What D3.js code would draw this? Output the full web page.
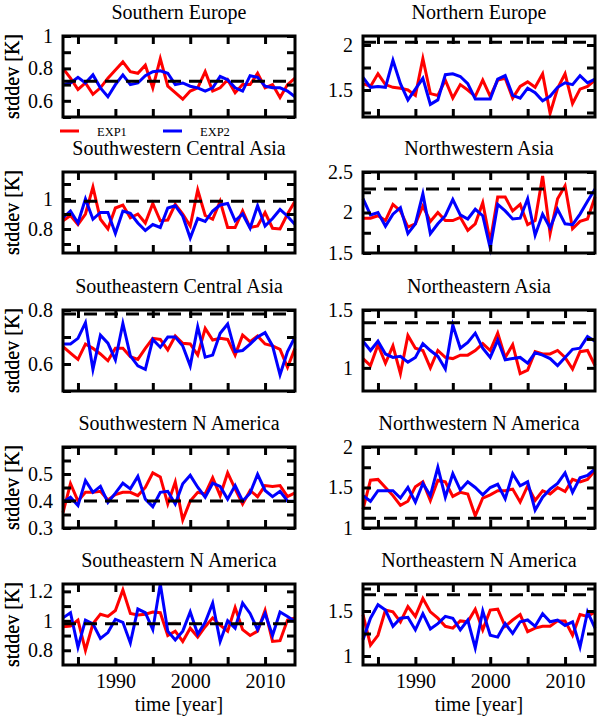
<!DOCTYPE html>
<html>
<head>
<meta charset="utf-8">
<script src="https://cdn.jsdelivr.net/npm/d3@7"></script>
<style>
  html, body { margin: 0; padding: 0; background: #fff; }
  svg { display: block; }
</style>
</head>
<body>
<svg id="chart" width="600" height="719"></svg>
<script>
// ---------------- DATA ----------------
const years = [1983,1984,1985,1986,1987,1988,1989,1990,1991,1992,1993,1994,1995,1996,1997,1998,
               1999,2000,2001,2002,2003,2004,2005,2006,2007,2008,2009,2010,2011,2012,2013,2014];

const regions = ["Southern Europe", "Northern Europe",
                 "Southwestern Central Asia", "Northwestern Asia",
                 "Southeastern Central Asia", "Northeastern Asia",
                 "Southwestern N America", "Northwestern N America",
                 "Southeastern N America", "Northeastern N America"];

const seriesNames = ["EXP1", "EXP2"];

// Southern Europe
const exp1_SEur = [0.80,0.74,0.67,0.71,0.64,0.68,0.74,0.79,0.84,0.78,0.77,0.82,0.68,0.86,0.69,0.65,
                   0.61,0.66,0.68,0.78,0.66,0.68,0.73,0.65,0.70,0.70,0.77,0.68,0.70,0.62,0.70,0.74];
const exp2_SEur = [0.70,0.71,0.745,0.71,0.76,0.68,0.625,0.70,0.76,0.70,0.71,0.755,0.78,0.785,0.77,0.70,
                   0.71,0.69,0.68,0.66,0.68,0.75,0.73,0.68,0.66,0.755,0.745,0.69,0.68,0.68,0.66,0.625];
// Northern Europe
const exp1_NEur = [1.57,1.54,1.68,1.56,1.53,1.52,1.50,1.44,1.85,1.46,1.44,1.61,1.41,1.56,1.50,1.43,
                   1.61,1.43,1.61,1.63,1.41,1.54,1.59,1.53,1.68,1.24,1.52,1.68,1.35,1.51,1.54,1.61];
const exp2_NEur = [1.64,1.53,1.54,1.53,1.83,1.57,1.39,1.51,1.63,1.34,1.39,1.67,1.68,1.65,1.57,1.40,
                   1.40,1.40,1.62,1.66,1.44,1.41,1.52,1.47,1.38,1.43,1.53,1.58,1.56,1.66,1.58,1.62];
// Southwestern Central Asia
const exp1_SWCA = [0.855,0.89,0.83,0.90,1.08,0.865,0.80,0.94,0.96,0.875,0.90,0.84,0.97,0.855,0.86,0.965,
                   0.90,0.82,1.06,0.89,0.865,0.985,0.81,0.81,0.92,0.81,0.82,0.91,0.805,0.80,0.90,0.985];
const exp2_SWCA = [0.875,0.92,0.84,1.00,0.865,0.91,0.91,0.77,0.92,0.905,0.84,0.79,0.83,0.81,0.94,0.955,
                   0.885,0.74,0.87,0.85,0.92,0.96,0.97,0.855,0.90,0.805,0.955,0.82,0.87,0.93,0.885,0.83];
// Northwestern Asia
const exp1_NWA = [1.93,1.93,1.96,1.90,2.10,2.02,1.82,1.86,2.08,1.89,2.00,1.90,1.90,1.94,1.78,1.86,
                  2.12,1.64,2.19,2.19,2.02,2.10,1.85,1.90,2.45,1.74,2.17,2.33,1.80,1.89,1.92,2.19];
const exp2_NWA = [2.17,1.97,2.00,1.83,1.98,2.06,1.74,1.86,2.23,1.74,1.86,1.96,2.16,1.97,1.92,2.04,
                  1.96,1.56,2.10,2.02,1.92,1.93,2.17,1.72,1.98,1.81,2.04,1.86,1.85,1.98,2.14,2.29];
// Southeastern Central Asia
const exp1_SECA = [0.664,0.64,0.617,0.674,0.658,0.637,0.612,0.658,0.658,0.627,0.617,0.658,0.695,0.691,0.652,0.704,
                   0.677,0.674,0.633,0.732,0.689,0.695,0.691,0.633,0.707,0.683,0.704,0.674,0.667,0.654,0.588,0.658];
const exp2_SECA = [0.674,0.674,0.695,0.753,0.58,0.707,0.677,0.615,0.75,0.63,0.593,0.58,0.691,0.662,0.70,0.70,
                   0.667,0.593,0.738,0.625,0.633,0.714,0.748,0.646,0.65,0.674,0.70,0.716,0.667,0.56,0.646,0.70];
// Northeastern Asia
const exp1_NEA = [1.08,1.02,1.20,1.04,1.19,0.95,1.28,1.17,1.15,1.00,1.15,1.09,1.08,1.11,1.11,1.15,
                  1.21,1.15,1.30,1.09,1.20,0.95,0.98,1.14,1.12,1.12,1.15,1.09,0.99,1.14,1.15,1.02];
const exp2_NEA = [1.23,1.15,1.23,1.12,1.09,1.10,1.05,1.09,1.21,1.15,1.10,0.99,1.37,1.17,1.22,1.30,
                  1.17,1.09,1.24,1.07,1.08,1.09,1.04,1.13,1.11,1.08,1.02,1.09,1.16,1.17,1.27,1.23];
// Southwestern N America
const exp1_SWNA = [0.357,0.464,0.40,0.432,0.432,0.436,0.404,0.424,0.432,0.432,0.42,0.45,0.504,0.489,0.389,0.47,
                   0.33,0.40,0.432,0.426,0.486,0.42,0.504,0.445,0.389,0.439,0.416,0.457,0.454,0.457,0.416,0.43];
const exp2_SWNA = [0.395,0.414,0.383,0.476,0.432,0.454,0.395,0.429,0.466,0.445,0.491,0.407,0.379,0.432,0.436,0.389,
                   0.464,0.495,0.451,0.414,0.466,0.454,0.407,0.457,0.40,0.429,0.499,0.439,0.416,0.436,0.40,0.399];
// Northwestern N America
const exp1_NWNA = [1.23,1.59,1.60,1.50,1.40,1.28,1.33,1.51,1.57,1.34,1.59,1.57,1.39,1.44,1.42,1.15,
                   1.37,1.41,1.46,1.46,1.48,1.32,1.52,1.34,1.46,1.42,1.50,1.45,1.60,1.57,1.60,1.71];
const exp2_NWNA = [1.40,1.33,1.46,1.46,1.46,1.37,1.50,1.32,1.55,1.40,1.75,1.38,1.67,1.47,1.57,1.50,
                   1.41,1.50,1.54,1.36,1.67,1.52,1.57,1.22,1.38,1.48,1.55,1.68,1.44,1.62,1.65,1.73];
// Southeastern N America
const exp1_SENA = [0.96,0.965,1.005,0.80,0.98,1.045,1.03,1.07,1.21,1.05,1.04,1.045,1.06,1.055,0.90,0.93,
                   0.86,0.95,0.89,0.96,1.02,0.97,0.93,1.09,0.94,0.90,0.93,1.07,0.86,0.865,1.005,1.02];
const exp2_SENA = [1.02,1.055,0.82,1.005,0.98,0.88,0.92,1.01,0.99,0.85,1.08,1.055,0.94,1.25,0.93,0.87,
                   0.93,1.06,0.91,0.99,1.12,0.86,1.00,0.95,1.12,1.05,0.94,1.05,0.90,1.06,1.03,0.995];
// Northeastern N America
const exp1_NENA = [1.46,1.12,1.23,1.51,1.49,1.38,1.55,1.44,1.64,1.49,1.42,1.33,1.31,1.39,1.38,1.52,
                   1.29,1.51,1.52,1.33,1.40,1.46,1.27,1.31,1.33,1.33,1.39,1.39,1.23,1.46,1.44,1.49];
const exp2_NENA = [1.18,1.42,1.57,1.51,1.33,1.42,1.43,1.29,1.47,1.30,1.36,1.44,1.42,1.29,1.40,1.09,
                   1.50,1.23,1.21,1.36,1.25,1.38,1.40,1.33,1.47,1.38,1.40,1.34,1.38,1.10,1.49,1.31];

const exp1 = [exp1_SEur, exp1_NEur, exp1_SWCA, exp1_NWA, exp1_SECA, exp1_NEA, exp1_SWNA, exp1_NWNA, exp1_SENA, exp1_NENA];
const exp2 = [exp2_SEur, exp2_NEur, exp2_SWCA, exp2_NWA, exp2_SECA, exp2_NEA, exp2_SWNA, exp2_NWNA, exp2_SENA, exp2_NENA];

// dashed reference level per region
const thresholds = [0.72, 2.03, 0.985, 2.29, 0.785, 1.39, 0.40, 1.12, 0.98, 1.68];

// y axis ranges, tick positions and labelled ticks per region
const yDomains = [[0.5,1.0],[1.2,2.1],[0.64,1.18],[1.5,2.5],[0.5,0.8],
                  [0.8,1.5],[0.3,0.6],[1.0,2.0],[0.7,1.25],[0.9,1.8]];
const yTicks = [[0.5,0.6,0.7,0.8,0.9,1.0],
                [1.25,1.5,1.75,2.0],
                [0.7,0.8,0.9,1.0,1.1],
                [1.5,1.75,2.0,2.25,2.5],
                [0.5,0.6,0.7,0.8],
                [1.0,1.25,1.5],
                [0.3,0.35,0.4,0.45,0.5,0.55,0.6],
                [1.0,1.25,1.5,1.75,2.0],
                [0.8,0.9,1.0,1.1,1.2],
                [1.0,1.25,1.5,1.75]];
const yTickLabels = [[0.6,0.8,1],[1.5,2],[0.8,1],[1.5,2,2.5],[0.6,0.8],
                     [1,1.5],[0.3,0.4,0.5],[1,1.5,2],[0.8,1,1.2],[1,1.5]];

const xDomain = [1983, 2014];
const xTicks = [1985,1990,1995,2000,2005,2010];
const xTickLabels = [1990,2000,2010];

const xTitle = "time [year]";
const yTitle = "stddev [K]";

// ---------------- LAYOUT ----------------
const FONT = "'Liberation Serif','Times New Roman',Times,serif";
const colX = [63, 363];
const rowY = [36, 172, 310, 447, 584];
const boxW = 232, boxH = 81;
const colors = ["#ff0000", "#0000ff"];

const svg = d3.select("#chart");

regions.forEach((name, i) => {
  const col = i % 2, row = Math.floor(i / 2);
  const x0 = colX[col], y0 = rowY[row];
  const g = svg.append("g").attr("transform", `translate(${x0},${y0})`);

  const x = d3.scaleLinear().domain(xDomain).range([0, boxW]);
  const y = d3.scaleLinear().domain(yDomains[i]).range([boxH, 0]);

  // title
  g.append("text")
    .attr("x", boxW / 2).attr("y", -17)
    .attr("text-anchor", "middle")
    .attr("font-family", FONT).attr("font-size", 20)
    .text(name);

  // y-axis title
  g.append("text")
    .attr("transform", `translate(${-x0 + 19},${boxH / 2}) rotate(-90)`)
    .attr("text-anchor", "middle")
    .attr("font-family", FONT).attr("font-size", 20)
    .text(yTitle);

  // series lines
  const line = d3.line()
    .x((d, k) => x(years[k]))
    .y(d => y(d));
  [exp1[i], exp2[i]].forEach((vals, s) => {
    g.append("path")
      .datum(vals)
      .attr("d", line)
      .attr("fill", "none")
      .attr("stroke", colors[s])
      .attr("stroke-width", 3)
      .attr("stroke-linejoin", "miter")
      .attr("stroke-miterlimit", 6);
  });

  // dashed reference line
  g.append("line")
    .attr("x1", 0).attr("x2", boxW)
    .attr("y1", y(thresholds[i])).attr("y2", y(thresholds[i]))
    .attr("stroke", "#000").attr("stroke-width", 3)
    .attr("stroke-dasharray", "13,8");

  // axes (inward ticks on all sides)
  const fmtY = d => yTickLabels[i].some(v => Math.abs(v - d) < 1e-9) ? String(+d.toFixed(3)) : "";
  const fmtX = d => xTickLabels.includes(d) ? String(d) : "";

  const axL = g.append("g").call(d3.axisLeft(y).tickValues(yTicks[i]).tickSize(-8).tickPadding(10).tickFormat(fmtY));
  const axR = g.append("g").attr("transform", `translate(${boxW},0)`)
    .call(d3.axisRight(y).tickValues(yTicks[i]).tickSize(-8).tickFormat(""));
  const axT = g.append("g").call(d3.axisTop(x).tickValues(xTicks).tickSize(-8).tickFormat(""));
  const axB = g.append("g").attr("transform", `translate(0,${boxH})`)
    .call(d3.axisBottom(x).tickValues(xTicks).tickSize(-8).tickPadding(row === 4 ? 9 : 0)
      .tickFormat(row === 4 ? fmtX : ""));

  [axL, axR, axT, axB].forEach(a => {
    a.select(".domain").remove();
    a.selectAll(".tick line").attr("stroke", "#000").attr("stroke-width", 3);
    a.attr("font-family", FONT).attr("font-size", 20);
    a.selectAll("text").attr("fill", "#000");
  });

  // frame
  g.append("rect")
    .attr("x", 0).attr("y", 0).attr("width", boxW).attr("height", boxH)
    .attr("fill", "none").attr("stroke", "#000").attr("stroke-width", 3);

  // x-axis title on bottom row
  if (row === 4) {
    g.append("text")
      .attr("x", boxW / 2).attr("y", boxH + 46)
      .attr("text-anchor", "middle")
      .attr("font-family", FONT).attr("font-size", 20)
      .text(xTitle);
  }
});

// legend (below first panel)
const leg = svg.append("g");
const legItems = [{x: 60}, {x: 163}];
seriesNames.forEach((nm, s) => {
  const lx = legItems[s].x;
  leg.append("line")
    .attr("x1", lx).attr("x2", lx + 19)
    .attr("y1", 131).attr("y2", 131)
    .attr("stroke", colors[s]).attr("stroke-width", 3);
  leg.append("text")
    .attr("x", lx + 37).attr("y", 135.5)
    .attr("font-family", FONT).attr("font-size", 12.5)
    .text(nm);
});
</script>
</body>
</html>
